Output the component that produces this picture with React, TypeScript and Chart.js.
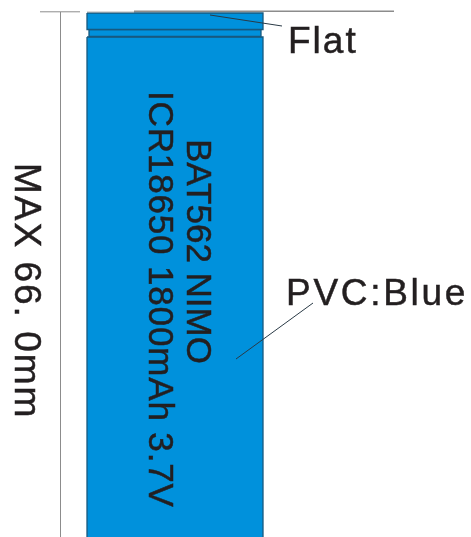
import React, { useEffect, useRef } from "react";
import { Chart, registerables } from "chart.js";

Chart.register(...registerables);

type P = { x: number; y: number };
const pts = (xs: number[], ys: number[]): P[] => xs.map((x, i) => ({ x, y: ys[i] }));

// Part outlines in drawing units (pixels of the 471x537 sheet, y downwards)
const capX = [87, 263, 263, 87, 87];
const capY = [13, 13, 29.5, 29.5, 13];
const grooveX = [89, 261, 261, 89, 89];
const grooveY = [29.5, 29.5, 36.5, 36.5, 29.5];
const bodyX = [87, 263, 263, 87, 87];
const bodyY = [37, 37, 540, 540, 37];

// Reference and leader lines
const refLeftX = [40, 80];
const refLeftY = [11.8, 11.8];
const refCapX = [87, 134];
const refCapY = [12, 12];
const flatPlaneX = [134, 394];
const flatPlaneY = [11.3, 11.3];
const dimX = [60.5, 60.5];
const dimY = [12, 537];
const flatLeaderX = [210, 282];
const flatLeaderY = [15, 26];
const pvcLeaderX = [313, 236];
const pvcLeaderY = [303, 359];

// Text labels
const labelTexts = ["Flat", "PVC:Blue", "MAX 66. 0mm", "BAT562 NIMO", "ICR18650 1800mAh 3.7V"];
const labelX = [288, 286, 15, 187, 149];
const labelY = [53, 305, 163, 139, 91];
const labelSize = [37, 37, 37, 35, 35];
const labelSpacing = [2, 2.7, 2, 0, 0.85];
const labelAngle = [0, 0, 90, 90, 90];

const BLUE = "#0091dc";
const EDGE = "#17597f";
const GREY = "#8c8c8c";

const textPlugin = {
  id: "partLabels",
  afterDatasetsDraw(chart: any) {
    const { ctx, scales } = chart;
    labelTexts.forEach((t, i) => {
      ctx.save();
      ctx.translate(scales.x.getPixelForValue(labelX[i]), scales.y.getPixelForValue(labelY[i]));
      ctx.rotate((labelAngle[i] * Math.PI) / 180);
      ctx.font = `${labelSize[i]}px "Liberation Sans", Arial, sans-serif`;
      ctx.letterSpacing = `${labelSpacing[i]}px`;
      ctx.fillStyle = "#231f20";
      ctx.strokeStyle = "#231f20";
      ctx.lineWidth = 0.5;
      ctx.textAlign = "left";
      ctx.textBaseline = "alphabetic";
      ctx.fillText(t, 0, 0);
      ctx.strokeText(t, 0, 0);
      ctx.restore();
    });
  },
};

const shape = (label: string, xs: number[], ys: number[]) => ({
  label,
  data: pts(xs, ys),
  showLine: true,
  fill: "shape" as const,
  backgroundColor: BLUE,
  borderColor: EDGE,
  borderWidth: 1.3,
  pointRadius: 0,
  tension: 0,
});

const line = (label: string, xs: number[], ys: number[], color: string, width: number) => ({
  label,
  data: pts(xs, ys),
  showLine: true,
  fill: false,
  borderColor: color,
  borderWidth: width,
  pointRadius: 0,
  tension: 0,
});

export default function App() {
  const ref = useRef<HTMLCanvasElement>(null);
  useEffect(() => {
    const chart = new Chart(ref.current!, {
      type: "scatter",
      data: {
        // Chart.js paints the first dataset last, so leaders come first to stay on top.
        datasets: [
          line("PVC leader", pvcLeaderX, pvcLeaderY, "#2a3a46", 1),
          line("Flat leader", flatLeaderX, flatLeaderY, "#2a3a46", 1),
          line("Dimension", dimX, dimY, GREY, 1),
          line("Flat plane", flatPlaneX, flatPlaneY, GREY, 1.6),
          line("Cap reference", refCapX, refCapY, "#b5b5b5", 1),
          line("Left reference", refLeftX, refLeftY, GREY, 1),
          shape("Cap", capX, capY),
          shape("Groove", grooveX, grooveY),
          shape("Body", bodyX, bodyY),
        ],
      },
      options: {
        animation: false,
        responsive: false,
        devicePixelRatio: 1,
        layout: { padding: 0 },
        plugins: { legend: { display: false }, tooltip: { enabled: false } },
        scales: {
          x: { type: "linear", min: 0, max: 471, display: false },
          y: { type: "linear", min: 0, max: 537, reverse: true, display: false },
        },
      },
      plugins: [textPlugin],
    });
    return () => chart.destroy();
  }, []);
  return (
    <div style={{ position: "fixed", left: 0, top: 0, width: 471, height: 537, background: "#fff" }}>
      <canvas ref={ref} width={471} height={537} style={{ display: "block" }} />
    </div>
  );
}
